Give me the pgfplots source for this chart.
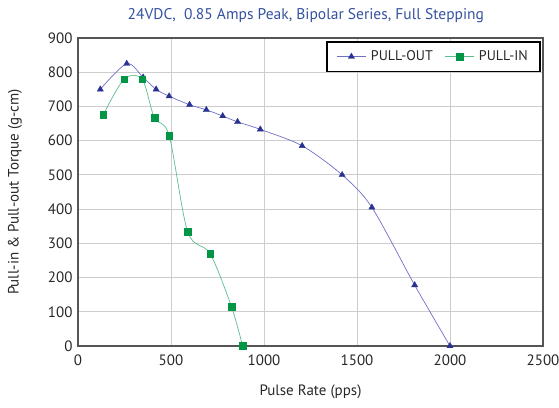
\documentclass[border=0pt]{standalone}
\usepackage{fontspec}
\setmainfont{PT Sans}
\usepackage{pgfplots}
\pgfplotsset{compat=1.18}

\definecolor{titleblue}{RGB}{52,82,160}
\definecolor{outline}{RGB}{112,112,200}
\definecolor{outmark}{RGB}{40,50,145}
\definecolor{inline}{RGB}{90,190,140}
\definecolor{inmark}{RGB}{0,150,70}
\definecolor{framegray}{RGB}{85,85,85}
\definecolor{gridgray}{RGB}{205,205,205}
\definecolor{txt}{RGB}{40,40,40}

\begin{document}
\begin{tikzpicture}
\begin{axis}[
  scale only axis,
  width=465pt, height=308pt,
  at={(0,0)}, anchor=south west,
  xmin=0, xmax=2500, ymin=0, ymax=900,
  xtick={0,500,...,2500}, ytick={0,100,...,900},
  grid=major,
  major grid style={gridgray, line width=0.8pt},
  axis line style={framegray, line width=1.8pt},
  tick style={draw=none},
  ticklabel style={font=\fontsize{15}{17}\selectfont, text=txt},
  xticklabel style={yshift=-5pt},
  yticklabel style={xshift=-2pt},
  /pgf/number format/assume math mode=true,
  /pgf/number format/1000 sep={},
  xlabel={Pulse Rate (pps)},
  ylabel={Pull-in \& Pull-out Torque (g-cm)},
  label style={font=\fontsize{15}{17}\selectfont, text=txt},
  xlabel style={at={(rel axis cs:0.5,0)}, anchor=center, yshift=-46pt},
  ylabel style={at={(rel axis cs:0,0.5)}, anchor=center, yshift=63pt},
  title={24VDC,\ \ 0.85 Amps Peak, Bipolar Series, Full Stepping},
  title style={font=\fontsize{15.5}{17}\selectfont, text=titleblue,
    at={(rel axis cs:0.49,1)}, anchor=center, yshift=16pt},
  legend columns=-1,
  legend style={at={(rel axis cs:0.995,0.99)}, anchor=north east,
    draw=black, line width=1.6pt, inner xsep=10pt, inner ysep=7pt,
    font=\fontsize{14}{16}\selectfont, text=txt,
    /tikz/every odd column/.append style={column sep=3pt},
    /tikz/every even column/.append style={column sep=10pt}},
  legend image code/.code={
    \draw[#1, mark repeat=2, mark phase=2, line width=0.7pt]
      plot coordinates {(0cm,0cm) (0.5cm,0cm) (1cm,0cm)};},
]
\addplot[outline, line width=0.7pt, smooth, tension=0.5,
  mark=triangle*, mark size=3.6pt,
  mark options={fill=outmark, draw=outmark, line width=0.3pt}]
  coordinates {
  (120,750) (262,825) (350,785) (420,750) (490,730) (600,705)
  (690,690) (778,672) (858,655) (980,633) (1205,585) (1420,500)
  (1580,405) (1810,178) (2000,0)
};
\addlegendentry{PULL-OUT}
\addplot[inline, line width=0.7pt, smooth, tension=0.5,
  mark=square*, mark size=3.4pt,
  mark options={fill=inmark, draw=inmark, line width=0.3pt}]
  coordinates {
  (135,675) (248,780) (345,780) (410,668) (490,615) (590,333)
  (710,270) (825,115) (885,0)
};
\addlegendentry{PULL-IN}
\end{axis}
\pgfresetboundingbox
\path (-78pt,-61pt) rectangle (481pt,346pt);
\end{tikzpicture}
\end{document}
